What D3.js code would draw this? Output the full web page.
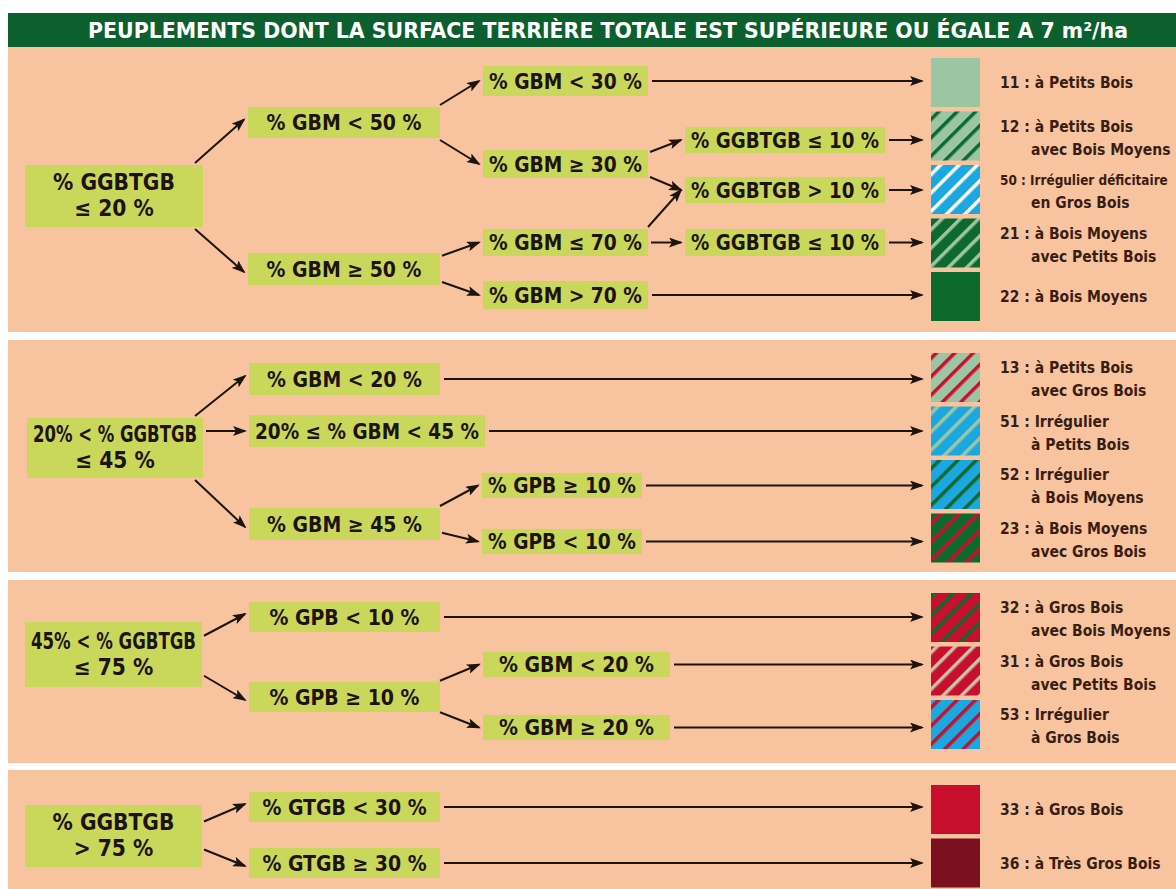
<!DOCTYPE html>
<html>
<head>
<meta charset="utf-8">
<script src="https://cdn.jsdelivr.net/npm/d3@7/dist/d3.min.js"></script>
<style>
  body { margin: 0; background: #fff; }
  svg { display: block; }
</style>
</head>
<body>
<div id="chart"></div>
<script>
// ---- data ----
const title = 'PEUPLEMENTS DONT LA SURFACE TERRIÈRE TOTALE EST SUPÉRIEURE OU ÉGALE A 7 m²/ha'

// criteria boxes (one entry per box, lines split with |)
const nodeIds = ['a1', 'a2', 'a3', 'a4', 'a5', 'a6', 'a7', 'a8', 'a9', 'a10',
                 'b1', 'b2', 'b3', 'b4', 'b5', 'b6',
                 'c1', 'c2', 'c3', 'c4', 'c5',
                 'd1', 'd2', 'd3']
const nodeTexts = ['% GGBTGB|≤ 20 %', '% GBM < 50 %', '% GBM ≥ 50 %', '% GBM < 30 %', '% GBM ≥ 30 %',
                   '% GBM ≤ 70 %', '% GBM > 70 %', '% GGBTGB ≤ 10 %', '% GGBTGB > 10 %', '% GGBTGB ≤ 10 %',
                   '20% < % GGBTGB|≤ 45 %', '% GBM < 20 %', '20% ≤ % GBM < 45 %', '% GBM ≥ 45 %', '% GPB ≥ 10 %', '% GPB < 10 %',
                   '45% < % GGBTGB|≤ 75 %', '% GPB < 10 %', '% GPB ≥ 10 %', '% GBM < 20 %', '% GBM ≥ 20 %',
                   '% GGBTGB|> 75 %', '% GTGB < 30 %', '% GTGB ≥ 30 %']

// branches between boxes
const edgeFrom = ['a1', 'a1', 'a2', 'a2', 'a3', 'a3', 'a5', 'a5', 'a6', 'a6', 'b1', 'b1', 'b1', 'b4', 'b4', 'c1', 'c1', 'c3', 'c3', 'd1', 'd1']
const edgeTo   = ['a2', 'a3', 'a4', 'a5', 'a6', 'a7', 'a8', 'a9', 'a9', 'a10', 'b2', 'b3', 'b4', 'b5', 'b6', 'c2', 'c3', 'c4', 'c5', 'd2', 'd3']

// resulting stand types
const leafCodes  = ['11', '12', '50', '21', '22', '13', '51', '52', '23', '32', '31', '53', '33', '36']
const leafLine1  = ['à Petits Bois', 'à Petits Bois', 'Irrégulier déficitaire', 'à Bois Moyens', 'à Bois Moyens',
                    'à Petits Bois', 'Irrégulier', 'Irrégulier', 'à Bois Moyens',
                    'à Gros Bois', 'à Gros Bois', 'Irrégulier', 'à Gros Bois', 'à Très Gros Bois']
const leafLine2  = ['', 'avec Bois Moyens', 'en Gros Bois', 'avec Petits Bois', '',
                    'avec Gros Bois', 'à Petits Bois', 'à Bois Moyens', 'avec Gros Bois',
                    'avec Bois Moyens', 'avec Petits Bois', 'à Gros Bois', '', '']
const leafSource = ['a4', 'a8', 'a9', 'a10', 'a7', 'b2', 'b3', 'b5', 'b6', 'c2', 'c4', 'c5', 'd2', 'd3']
const leafPanel  = [0, 0, 0, 0, 0, 1, 1, 1, 1, 2, 2, 2, 3, 3]
const leafFill   = ['lightgreen', 'lightgreen', 'blue', 'darkgreen', 'darkgreen', 'lightgreen', 'blue', 'blue',
                    'darkgreen', 'red', 'red', 'blue', 'red', 'darkred']
const leafStripe = ['', 'darkgreen', 'white', 'lightgreen', '', 'red', 'lightgreen', 'darkgreen',
                    'red', 'darkgreen', 'pale', 'red', '', '']

// ---- layout & style ----
const W = 1176, H = 889
const colors = {
    peach: '#f7c49f', box: '#c9d75b', header: '#0c5f2e', ink: '#1d1410', label: '#3a1d12',
    lightgreen: '#9cc6a3', darkgreen: '#0d692e', blue: '#1ba8e0', white: '#ffffff',
    red: '#c8102e', darkred: '#7a1020', pale: '#c9c0a8',
}
const font = '"DejaVu Sans Condensed", "DejaVu Sans", sans-serif'

// panels: top / bottom
const panelTop = [47, 340, 580, 770]
const panelBottom = [332, 572, 763, 889]
const swatchTop = [58, 353, 593, 785]

// box rectangles [x, y, w, h]
const boxLayout = {
    a1: [25, 165, 178, 62], a2: [248, 107, 192, 31], a3: [248, 253, 192, 32],
    a4: [483, 66, 165, 30], a5: [483, 150, 165, 28], a6: [483, 229, 165, 27], a7: [483, 281, 165, 28],
    a8: [685, 127, 200, 26], a9: [685, 177, 200, 26], a10: [685, 229, 200, 27],
    b1: [27, 418, 176, 60], b2: [249, 363, 191, 32], b3: [249, 415, 236, 32], b4: [249, 508, 191, 32],
    b5: [482, 473, 160, 25], b6: [482, 529, 160, 25],
    c1: [25, 622, 177, 65], c2: [249, 602, 191, 30], c3: [249, 682, 191, 30],
    c4: [483, 652, 187, 25], c5: [483, 715, 187, 25],
    d1: [25, 805, 177, 62], d2: [249, 792, 191, 30], d3: [249, 848, 191, 30],
}
const swatch = { x: 931, size: 49, step: 53.5, arrowEnd: 922, textX: 1000, indentX: 1031 }

const nodes = nodeIds.map((id, i) => {
    const [x, y, w, h] = boxLayout[id]
    return { id, lines: nodeTexts[i].split('|'), x, y, w, h, cy: y + h / 2 }
})
const byId = new Map(nodes.map(d => [d.id, d]))

const leaves = leafCodes.map((code, i) => ({
    code, line1: leafLine1[i], line2: leafLine2[i], src: byId.get(leafSource[i]),
    panel: leafPanel[i], fill: leafFill[i], stripe: leafStripe[i],
}))
// position within each panel
const panelCount = {}
leaves.forEach(d => {
    d.idx = panelCount[d.panel] = (panelCount[d.panel] ?? -1) + 1
})
const swatchY = d3.scaleLinear().domain([0, 1]).range([0, swatch.step])

// squeeze a text horizontally when it is wider than maxW
function fitText(sel, maxW) {
    sel.each(function () {
        const len = this.getComputedTextLength()
        if (len > maxW) d3.select(this).attr('textLength', maxW).attr('lengthAdjust', 'spacingAndGlyphs')
    })
}
// shrink the font of a text when it is wider than maxW
function shrinkText(sel, maxW) {
    sel.each(function () {
        const len = this.getComputedTextLength()
        const size = parseFloat(getComputedStyle(this).fontSize)
        if (len > maxW) d3.select(this).attr('font-size', size * maxW / len)
    })
}

const svg = d3.select('#chart')
    .append('svg')
    .attr('width', W)
    .attr('height', H)
    .style('font-family', font)

const defs = svg.append('defs')

// arrowhead
defs.append('marker')
    .attr('id', 'arrow')
    .attr('markerUnits', 'userSpaceOnUse')
    .attr('viewBox', '0 0 14 10')
    .attr('refX', 12)
    .attr('refY', 5)
    .attr('markerWidth', 14)
    .attr('markerHeight', 10)
    .attr('orient', 'auto')
    .append('path')
    .attr('d', 'M0,0 L14,5 L0,10 L3,5 Z')
    .attr('fill', colors.ink)

// striped patterns
const stripeCombos = Array.from(new Set(leaves.filter(d => d.stripe).map(d => d.fill + '-' + d.stripe)))
stripeCombos.forEach(key => {
    const [bg, fg] = key.split('-')
    const p = defs.append('pattern')
        .attr('id', 'p-' + key)
        .attr('patternUnits', 'userSpaceOnUse')
        .attr('width', 13)
        .attr('height', 13)
        .attr('patternTransform', 'rotate(45)')
    p.append('rect').attr('width', 13).attr('height', 13).attr('fill', colors[bg])
    p.append('rect').attr('x', 0).attr('width', 3.5).attr('height', 13).attr('fill', colors[fg])
})

// header
svg.append('rect')
    .attr('x', 8).attr('y', 13).attr('width', W - 8).attr('height', 34)
    .attr('fill', colors.header)
const titleText = svg.append('text')
    .attr('x', 88).attr('y', 38)
    .attr('fill', '#fff')
    .attr('font-weight', 'bold')
    .attr('font-size', 22)
    .text(title)
titleText.attr('textLength', 1040).attr('lengthAdjust', 'spacingAndGlyphs')

// panels
svg.selectAll('rect.panel')
    .data(panelTop)
    .enter()
    .append('rect')
    .attr('class', 'panel')
    .attr('x', 8)
    .attr('y', d => d)
    .attr('width', W - 8)
    .attr('height', (d, i) => panelBottom[i] - d)
    .attr('fill', colors.peach)

// branch arrows between boxes
function edgePoints(s, t) {
    const dy = t.cy - s.cy
    if (Math.abs(dy) < 0.3 * s.h) return [[s.x + s.w + 3, t.cy], [t.x - 4, t.cy]]
    const half = s.h / 2
    const corner = Math.abs(dy) * 0.5 >= half
    const off = Math.sign(dy) * Math.min(Math.abs(dy) * 0.5, half + 2)
    const x0 = s.x + s.w + (corner ? (s.h > 40 ? -8 : 0) : 2)
    const yEnd = t.cy + (s.h > 40 ? Math.sign(dy) * 3 : 0)
    return [[x0, s.cy + off], [t.x - 4, yEnd]]
}
const line = d3.line()

svg.append('g')
    .selectAll('path')
    .data(edgeFrom.map((f, i) => edgePoints(byId.get(f), byId.get(edgeTo[i]))))
    .enter()
    .append('path')
    .attr('d', line)
    .attr('stroke', colors.ink)
    .attr('stroke-width', 2)
    .attr('fill', 'none')
    .attr('marker-end', 'url(#arrow)')

// arrows to swatches
svg.append('g')
    .selectAll('path')
    .data(leaves)
    .enter()
    .append('path')
    .attr('d', d => line([[d.src.x + d.src.w + 4, d.src.cy], [swatch.arrowEnd, d.src.cy]]))
    .attr('stroke', colors.ink)
    .attr('stroke-width', 2)
    .attr('fill', 'none')
    .attr('marker-end', 'url(#arrow)')

// boxes
const boxG = svg.append('g')
    .selectAll('g')
    .data(nodes)
    .enter()
    .append('g')
boxG.append('rect')
    .attr('x', d => d.x).attr('y', d => d.y)
    .attr('width', d => d.w).attr('height', d => d.h)
    .attr('fill', colors.box)
boxG.each(function (d) {
    const g = d3.select(this)
    const two = d.lines.length > 1
    d.lines.forEach((t, i) => {
        const txt = g.append('text')
            .attr('x', d.x + d.w / 2)
            .attr('y', two ? d.cy - 6 + i * 26 : d.cy + 7.5)
            .attr('text-anchor', 'middle')
            .attr('font-size', two ? 22.5 : 21)
            .attr('font-weight', 'bold')
            .attr('fill', colors.ink)
            .text(t)
        fitText(txt, d.w - 12)
    })
})

// swatches
svg.append('g')
    .selectAll('rect')
    .data(leaves)
    .enter()
    .append('rect')
    .attr('x', swatch.x)
    .attr('y', d => swatchTop[d.panel] + swatchY(d.idx))
    .attr('width', swatch.size)
    .attr('height', swatch.size)
    .attr('fill', d => d.stripe ? `url(#p-${d.fill}-${d.stripe})` : colors[d.fill])

// labels
const labG = svg.append('g')
    .selectAll('g')
    .data(leaves)
    .enter()
    .append('g')
    .attr('font-size', 15.5)
    .attr('font-weight', 'bold')
    .attr('fill', colors.label)
labG.append('text')
    .attr('x', swatch.textX)
    .attr('y', d => swatchTop[d.panel] + swatchY(d.idx) + swatch.size / 2 + (d.line2 ? -4.5 : 5.5))
    .text(d => `${d.code} : ${d.line1}`)
    .call(shrinkText, W - 8 - swatch.textX)
labG.filter(d => d.line2)
    .append('text')
    .attr('x', swatch.indentX)
    .attr('y', d => swatchTop[d.panel] + swatchY(d.idx) + swatch.size / 2 + 18.5)
    .text(d => d.line2)
</script>
</body>
</html>
